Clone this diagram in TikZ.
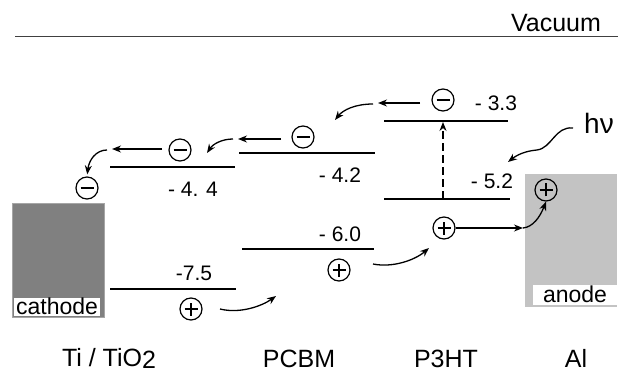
\documentclass[tikz,border=0pt]{standalone}
\usepackage{fontspec}
\setmainfont{Liberation Sans}
\usepackage{tikz}
\usetikzlibrary{arrows.meta}

\definecolor{cathodegray}{HTML}{808080}
\definecolor{anodegray}{HTML}{C3C3C3}

\tikzset{
  level/.style={line width=1.6pt},
  sign/.style={circle, draw, line width=1.2pt, minimum size=22pt, inner sep=0pt},
  elec/.style={sign, path picture={\draw[line width=1.4pt] ([xshift=-6.5pt]path picture bounding box.center) -- ([xshift=6.5pt]path picture bounding box.center);}},
  hole/.style={sign, path picture={\draw[line width=1.4pt] ([xshift=-6.5pt]path picture bounding box.center) -- ([xshift=6.5pt]path picture bounding box.center) ([yshift=-6.5pt]path picture bounding box.center) -- ([yshift=6.5pt]path picture bounding box.center);}},
  move/.style={line width=1.3pt, -{Stealth[length=9pt,width=7pt]}},
  energy/.style={font=\fontsize{21}{24}\selectfont},
  material/.style={font=\fontsize{25}{30}\selectfont, anchor=base, inner sep=0.5pt},
}

\begin{document}
\begin{tikzpicture}[x=1pt,y=-1pt]
  \useasboundingbox (0,0) rectangle (618,374);

  % vacuum level
  \draw[line width=0.9pt, black!75] (15,36) -- (618,36);
  \node[font=\fontsize{25}{30}\selectfont] (vac) at (556,23) {Vacuum};

  % electrodes
  \filldraw[fill=cathodegray, draw=black!35, line width=0.8pt] (12,203) rectangle (104,317);
  \fill[white] (14,298) rectangle (100,316);
  \node[font=\fontsize{23}{26}\selectfont] (cath) at (57,306) {cathode};
  \fill[anodegray] (525,174) rectangle (617,307);
  \fill[white] (533,285) rectangle (617,305);
  \node[font=\fontsize{23}{26}\selectfont] (anod) at (575,294) {anode};

  % energy levels
  \draw[level] (110,167) -- (235,167);
  \draw[level] (110,289) -- (236,289);
  \draw[level] (239,153) -- (375,153);
  \draw[level] (242,249) -- (374,249);
  \draw[level] (384,121) -- (508,121);
  \draw[level] (384,199) -- (510,199);

  \node[energy] (lTiL) at (193,189) {- 4. 4};
  \node[energy] (lTiH) at (194,273) {-7.5};
  \node[energy] (lPCL) at (340,175) {- 4.2};
  \node[energy] (lPCH) at (340,234) {- 6.0};
  \node[energy] (lP3L) at (496,103) {- 3.3};
  \node[energy] (lP3H) at (492,181) {- 5.2};

  % charges
  \node[elec] (eP3HT) at (443,100) {};
  \node[elec] (ePCBM) at (303,137) {};
  \node[elec] (eTi) at (180,150) {};
  \node[elec] (eCath) at (87,188) {};
  \node[hole] (hTi) at (191,309) {};
  \node[hole] (hPCBM) at (339,270) {};
  \node[hole] (hP3HT) at (444,228) {};
  \node[hole] (hAnode) at (546,190) {};

  % excitation
  \coordinate (homo) at (443,199);
  \coordinate (lumo) at (443,122);
  \draw[move, dash pattern=on 8pt off 4pt] (homo) -- (lumo);

  % electron path
  \coordinate (a1) at (420,103);
  \coordinate (a2) at (378,103);
  \coordinate (a3) at (373,104);
  \coordinate (a4) at (335,120);
  \draw[move] (a1) -- (a2);
  \draw[move] (a3) .. controls (355,104) and (343,110) .. (a4);
  \coordinate (b1) at (281,139);
  \coordinate (b2) at (238,139);
  \coordinate (b3) at (233,139);
  \coordinate (b4) at (207,153);
  \draw[move] (b1) -- (b2);
  \draw[move] (b3) .. controls (222,139) and (213,144) .. (b4);
  \coordinate (c1) at (162,149);
  \coordinate (c2) at (112,149);
  \coordinate (c3) at (107,150);
  \draw[move] (c1) -- (c2);
  \draw[move, shorten >=2pt] (c3) .. controls (96,150) and (89,160) .. (eCath.north);

  % hole path
  \coordinate (d1) at (220,309);
  \coordinate (d2) at (276,296);
  \draw[move] (d1) .. controls (240,314) and (262,306) .. (d2);
  \coordinate (e1) at (373,264);
  \coordinate (e2) at (429,248);
  \draw[move] (e1) .. controls (393,268) and (415,260) .. (e2);
  \coordinate (turn) at (523,228);
  \draw[move] (hP3HT.east) -- (turn);
  \draw[move] (turn) .. controls (533,227) and (540,217) .. (hAnode.south);

  % light
  \node[font=\fontsize{28}{32}\selectfont] (hv) at (599,123) {hν};
  \coordinate (w1) at (573,128);
  \coordinate (w2) at (508,162);
  \draw[move] (w1) .. controls (555,126) and (552,148) .. (537,150)
    .. controls (525,151) and (517,155) .. (w2);

  % materials
  \node[material] (mTi) at (109,366) {Ti / TiO\raisebox{-2.5pt}{2}};
  \node[material] (mPCBM) at (299,367) {PCBM};
  \node[material] (mP3HT) at (446,367) {P3HT};
  \node[material] (mAl) at (576,367) {Al};
\end{tikzpicture}
\end{document}
